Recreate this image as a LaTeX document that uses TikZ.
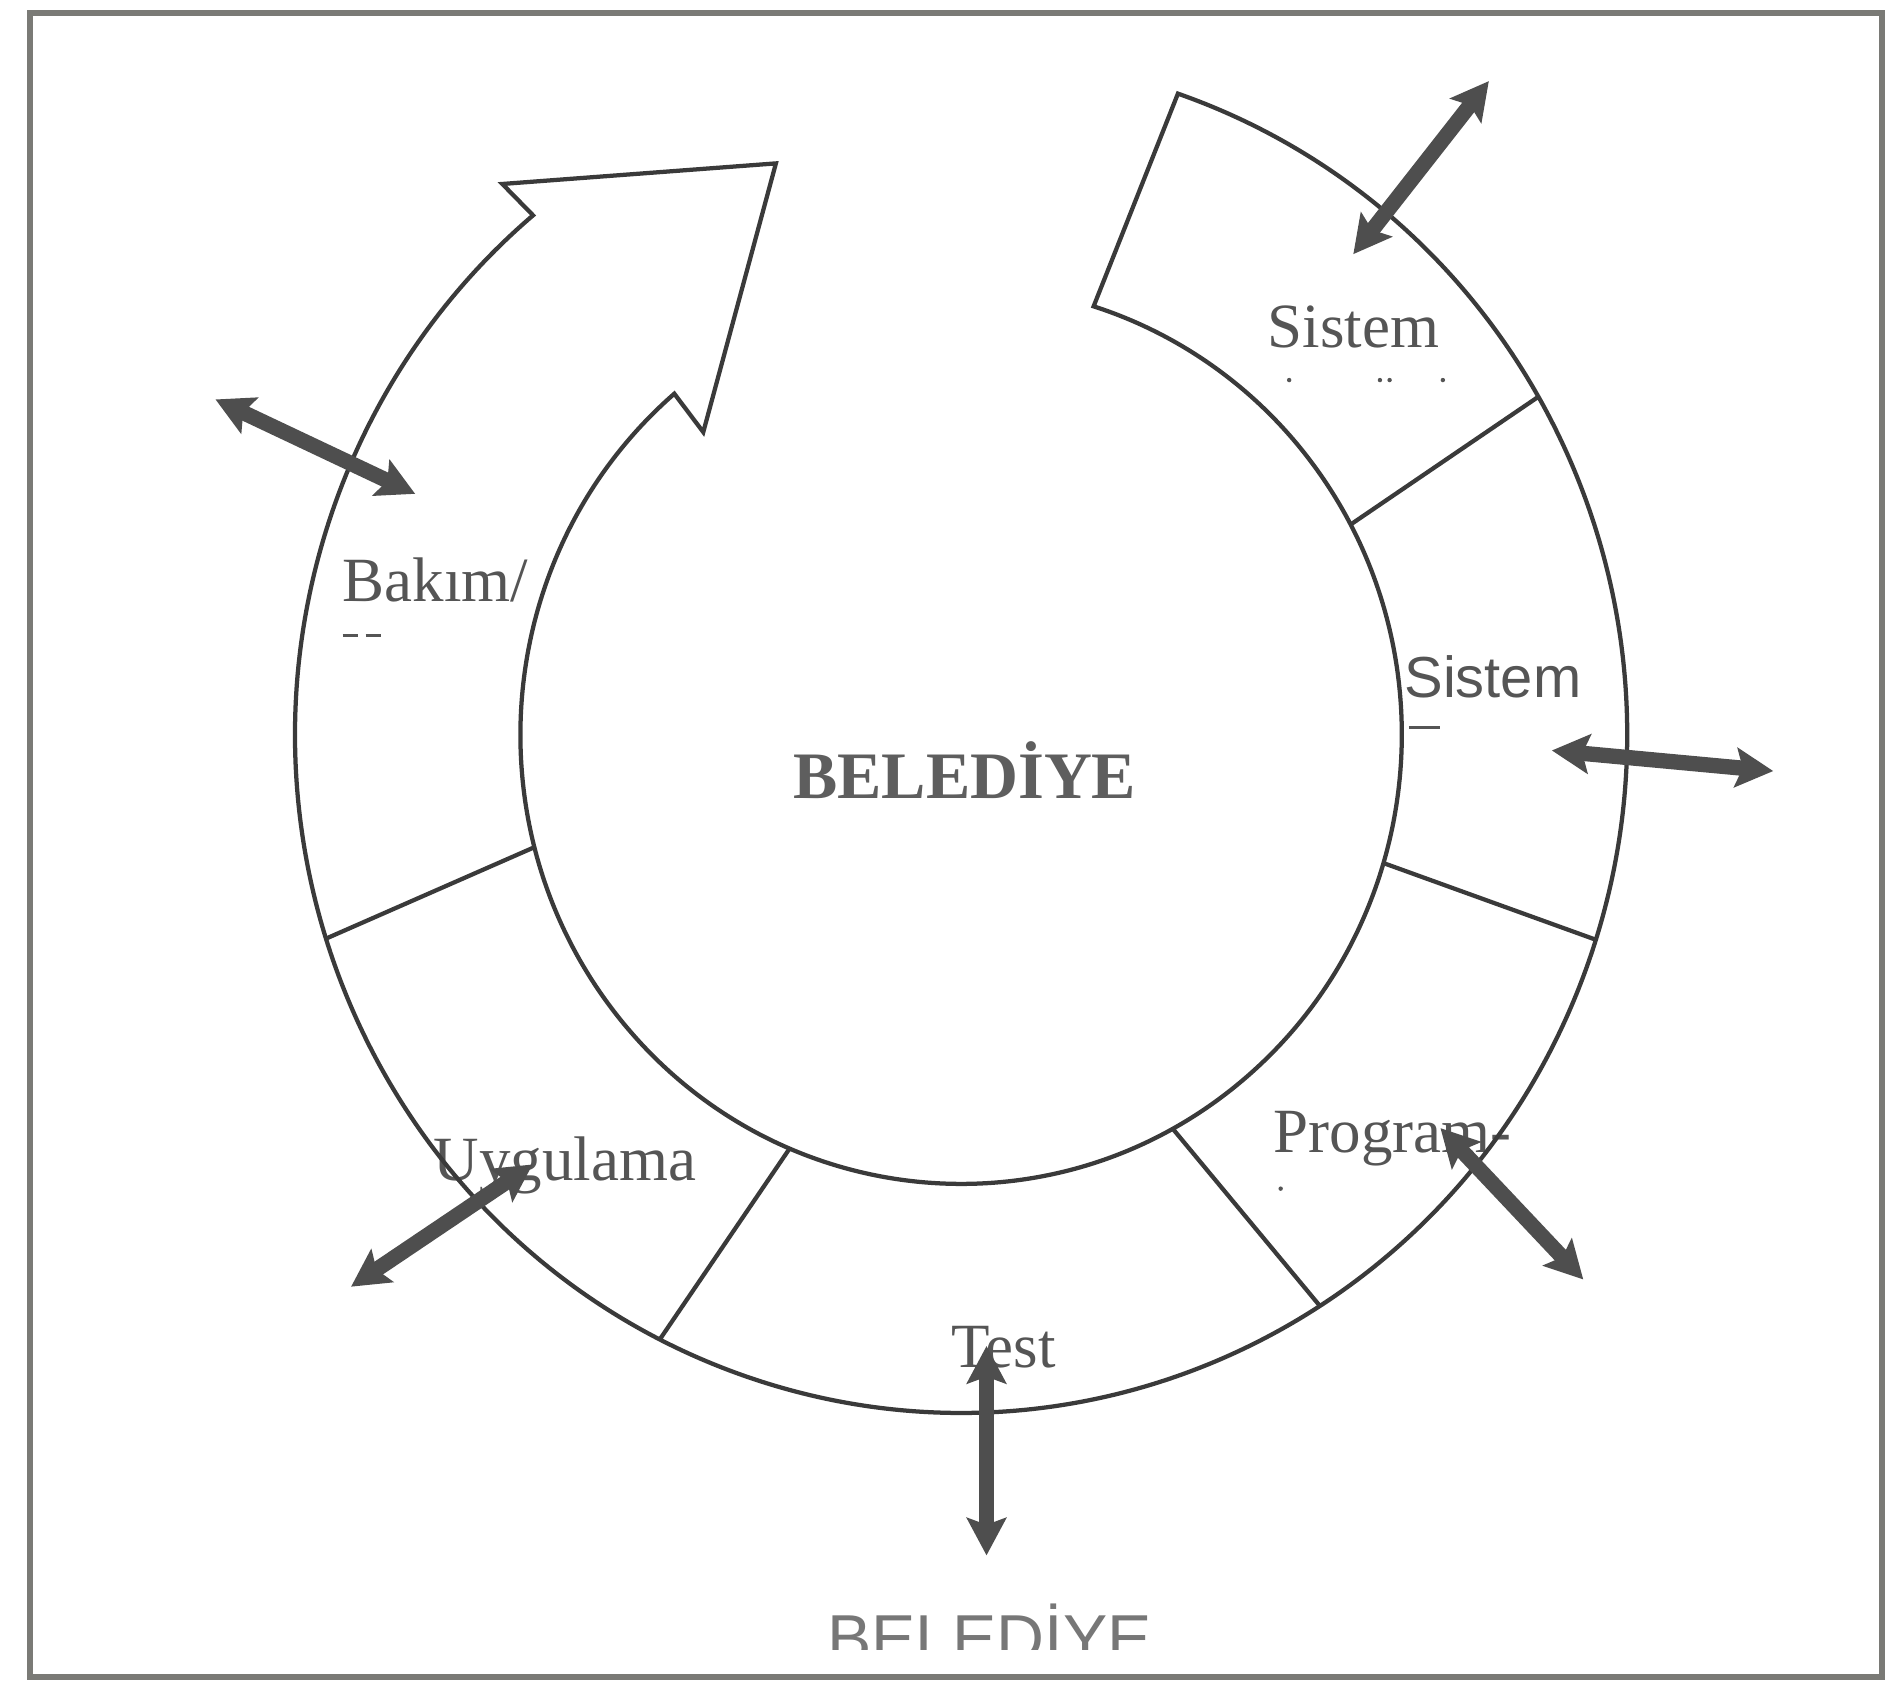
\documentclass[tikz,border=0pt]{standalone}
\usepackage{fontspec}
\setmainfont{Liberation Serif}
\newfontfamily\flarefont{Liberation Sans}
\usetikzlibrary{calc,arrows.meta}
\definecolor{linegray}{HTML}{3A3A3A}
\definecolor{framegray}{HTML}{7A7A76}
\definecolor{textgray}{HTML}{555555}
\definecolor{arrowgray}{HTML}{4E4E4E}
\tikzset{
  ring/.style={draw=linegray, line width=2.5pt, line join=miter},
  phase/.style={inner sep=0pt, anchor=base west, text=textgray, font=\fontsize{37}{40}\selectfont},
  dblarrow/.style={draw=arrowgray, line width=9pt,
    arrows={Stealth[length=22pt,width=23pt,inset=4pt]-Stealth[length=22pt,width=23pt,inset=4pt]}},
}

\begin{document}
\begin{tikzpicture}[x=0.025cm, y=0.025cm]
	\useasboundingbox (0,0) rectangle (1568,1388);
	\draw[framegray, line width=3.4pt] (25,2.5) rectangle (1555,1377);

	% texts
	\node[phase] (sistemA) at (1047,1101) {Sistem};
	\node[phase, font=\fontsize{34}{38}\selectfont\flarefont] (sistemB) at (1160,812) {Sistem};
	\node[phase] (bakim) at (283,891) {Bakım/};
	\node[phase] (program) at (1052,436) {Program-};
	\node[phase] (uygulama) at (358,413) {Uygulama};
	\node[phase] (test) at (786,258) {Test};
	\node[inner sep=0pt, anchor=base west, text=textgray!95, font=\fontsize{39}{42}\selectfont\bfseries] (belediye) at (655,728) {BELEDİYE};
	\begin{scope}
		\clip (0,25) rectangle (1568,1388);
		\node[inner sep=0pt, anchor=base west, text=textgray!80, font=\fontsize{39}{42}\selectfont\flarefont] (belediyeAlt) at (683,15.5) {BELEDİYE};
	\end{scope}

	% remains of second lines
	\draw[textgray, line width=1.4pt] (283,863) -- (296,863) (302,863) -- (315,863);
	\draw[textgray, line width=1.4pt] (1164,787) -- (1190,787);
	\fill[textgray] (1058,406) circle (1.3pt);
	\fill[textgray] (1065,1074) circle (1.3pt) (1140,1074) circle (1.3pt) (1148,1074) circle (1.3pt) (1192,1074) circle (1.3pt);

	% ring with arrow head
	\coordinate (c) at (794,781);
	\draw[ring] ($(c)+(71:13.75cm and 14cm)$)
		arc[start angle=71, end angle=-230, x radius=13.75cm, y radius=14cm]
		-- (415,1236) -- (641,1253) -- (581,1031)
		-- ($(c)+(130.6:9.1cm and 9.275cm)$)
		arc[start angle=130.6, end angle=432.5, x radius=9.1cm, y radius=9.275cm]
		-- cycle;
	\draw[ring] ($(c)+(29.9:13.75cm and 14cm)$) -- ($(c)+(27.9:9.1cm and 9.275cm)$);
	\draw[ring] ($(c)+(-17.6:13.75cm and 14cm)$) -- ($(c)+(-16.6:9.1cm and 9.275cm)$);
	\draw[ring] ($(c)+(-57.4:13.75cm and 14cm)$) -- ($(c)+(-61.3:9.1cm and 9.275cm)$);
	\draw[ring] ($(c)+(-116.9:13.75cm and 14cm)$) -- ($(c)+(-112.9:9.1cm and 9.275cm)$);
	\draw[ring] ($(c)+(197.5:13.75cm and 14cm)$) -- ($(c)+(194.5:9.1cm and 9.275cm)$);

	% double arrows
	\coordinate (sisAin) at (1118,1178);
	\coordinate (sisAout) at (1230,1321);
	\coordinate (bakIn) at (343,980);
	\coordinate (bakOut) at (178,1058);
	\coordinate (sisBin) at (1282,768);
	\coordinate (sisBout) at (1465,751);
	\coordinate (progIn) at (1190,456);
	\coordinate (progOut) at (1308,331);
	\coordinate (testIn) at (815,276);
	\coordinate (testOut) at (815,103);
	\coordinate (uygIn) at (440,426);
	\coordinate (uygOut) at (290,325);
	\draw[dblarrow] (sisAin) -- (sisAout);
	\draw[dblarrow] (bakIn) -- (bakOut);
	\draw[dblarrow] (sisBin) -- (sisBout);
	\draw[dblarrow] (progIn) -- (progOut);
	\draw[dblarrow] (testIn) -- (testOut);
	\draw[dblarrow] (uygIn) -- (uygOut);
\end{tikzpicture}
\end{document}
